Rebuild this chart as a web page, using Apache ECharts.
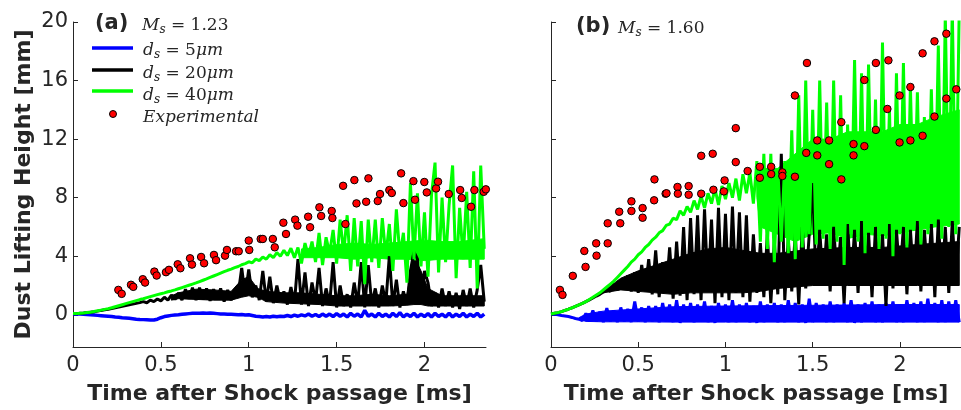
<!DOCTYPE html>
<html>
<head>
<meta charset="utf-8">
<script src="https://cdn.jsdelivr.net/npm/echarts@6/dist/echarts.min.js"></script>
<style>html,body{margin:0;padding:0;background:#fff}#c{width:961px;height:410px}</style>
</head>
<body>
<div id="c"></div>
<script>
// ---------- DATA ----------
const xTickValues = [0, 0.5, 1, 1.5, 2];
const xTickLabels = ['0', '0.5', '1', '1.5', '2'];
const yTickValues = [0, 4, 8, 12, 16, 20];
const yTickLabels = ['0', '4', '8', '12', '16', '20'];

const seriesNames = ['d_s = 5μm', 'd_s = 20μm', 'd_s = 40μm', 'Experimental'];
const machA = '1.23';
const machB = '1.60';

// simulation time grid [ms]
const timeGrid = [
  0,0.02,0.04,0.06,0.08,0.1,0.12,0.14,0.16,0.18,
  0.2,0.22,0.24,0.26,0.28,0.3,0.32,0.34,0.36,0.38,
  0.4,0.42,0.44,0.46,0.48,0.5,0.52,0.54,0.56,0.58,
  0.6,0.62,0.64,0.66,0.68,0.7,0.72,0.74,0.76,0.78,
  0.8,0.82,0.84,0.86,0.88,0.9,0.92,0.94,0.96,0.98,
  1,1.02,1.04,1.06,1.08,1.1,1.12,1.14,1.16,1.18,
  1.2,1.22,1.24,1.26,1.28,1.3,1.32,1.34,1.36,1.38,
  1.4,1.42,1.44,1.46,1.48,1.5,1.52,1.54,1.56,1.58,
  1.6,1.62,1.64,1.66,1.68,1.7,1.72,1.74,1.76,1.78,
  1.8,1.82,1.84,1.86,1.88,1.9,1.92,1.94,1.96,1.98,
  2,2.02,2.04,2.06,2.08,2.1,2.12,2.14,2.16,2.18,
  2.2,2.22,2.24,2.26,2.28,2.3,2.32,2.34
];

// Panel (a) Ms = 1.23 — simulated traces
const blueA = [
  0.07,0.06,0.05,0.04,0.02,0,-0.02,-0.04,-0.06,-0.08,
  -0.1,-0.12,-0.15,-0.17,-0.2,-0.22,-0.24,-0.27,-0.3,-0.32,
  -0.33,-0.34,-0.35,-0.36,-0.3,-0.2,-0.12,-0.08,-0.04,-0.02,
  0,0.03,0.06,0.08,0.1,0.1,0.1,0.12,0.1,0.12,
  0.1,0.08,0.06,0.05,0.04,0.03,0.02,0,0.02,-0.02,
  0,-0.05,-0.1,-0.12,-0.15,-0.12,-0.15,-0.1,-0.14,-0.1,
  -0.12,-0.05,-0.12,-0.02,-0.1,0,-0.08,0.05,-0.1,0.02,
  -0.12,0.05,-0.1,0.05,-0.12,0.08,-0.1,0.05,-0.15,0.1,
  -0.1,0.05,-0.15,0.3,-0.1,0.05,-0.15,0.1,-0.12,0.05,
  -0.15,0.1,-0.12,0.15,-0.15,0.05,-0.12,0.1,-0.15,0.05,
  -0.12,0.08,-0.15,0.1,-0.12,0.05,-0.15,0.1,-0.15,0.05,
  -0.12,0.1,-0.15,0.05,-0.12,0.1,-0.15,0.05
];
const blackA = [
  0.08,0.08,0.1,0.12,0.15,0.18,0.21,0.25,0.3,0.34,
  0.38,0.43,0.48,0.53,0.58,0.63,0.68,0.73,0.78,0.83,
  0.9,0.82,1.0,0.9,1.08,0.95,1.2,1.0,1.35,1.05,
  1.5,1.0,1.75,1.1,1.85,1.0,1.85,1.05,1.8,0.95,
  1.75,1.1,1.8,0.9,1.7,1.0,1.6,1.4,3.2,1.3,
  3.1,1.2,2.0,1.0,3.0,0.9,2.6,0.8,2.0,0.9,
  1.6,0.7,1.9,0.8,3.8,0.7,2.9,0.6,2.2,0.9,
  3.2,0.6,1.8,0.7,3.6,0.5,2.0,0.6,1.4,0.5,
  2.2,0.7,3.6,0.5,3.4,0.7,1.8,0.5,2.0,0.8,
  4.0,0.6,2.4,0.5,1.6,0.7,3.0,4.3,3.8,0.8,
  3.0,2.2,0.6,1.5,0.5,1.8,0.6,1.6,0.5,1.5,
  0.4,1.7,0.6,1.8,0.5,1.7,3.4,0.9
];
const greenA = [
  0.08,0.08,0.1,0.12,0.15,0.18,0.22,0.27,0.32,0.37,
  0.42,0.48,0.55,0.62,0.69,0.76,0.83,0.9,0.97,1.04,
  1.1,1.17,1.24,1.31,1.38,1.44,1.5,1.57,1.63,1.7,
  1.78,1.86,1.94,2.02,2.1,2.18,2.27,2.36,2.45,2.55,
  2.65,2.75,2.85,2.95,3.04,3.12,3.22,3.3,3.42,3.5,
  3.62,3.55,3.8,3.7,3.95,3.8,4.1,3.9,4.25,4.0,
  4.4,4.05,4.55,3.9,4.6,3.5,4.9,4.0,5.0,3.6,
  5.6,3.4,5.3,4.2,5.8,3.5,6.5,4.2,6.8,3.0,
  6.6,3.3,6.4,2.1,6.5,3.6,6.5,3.2,6.6,4.0,
  6.2,3.0,7.2,4.0,5.6,2.2,9.0,3.8,8.3,3.3,
  7.0,2.6,8.2,10.4,2.9,8.0,3.6,7.5,10.2,2.5,
  7.3,3.8,8.4,3.2,9.8,1.8,10.2,4.5
];
// Panel (a) dense cores of the noisy traces (lower / upper edge)
const blackABandTime = [0.56,0.6,0.7,0.8,0.9,0.96,1.0,1.05,1.1,1.2,1.3,1.4,1.5,1.6,1.7,1.8,1.9,1.94,1.98,2.02,2.1,2.2,2.34];
const blackABandLow  = [1.0,1.1,1.05,1.0,1.0,1.2,1.3,1.2,0.9,0.8,0.75,0.7,0.6,0.6,0.6,0.6,0.65,0.7,0.7,0.6,0.6,0.6,0.6];
const blackABandHigh = [1.3,1.5,1.75,1.7,1.6,2.4,2.6,1.8,1.6,1.5,1.5,1.4,1.3,1.3,1.4,1.3,1.4,4.0,3.0,1.8,1.3,1.3,1.3];
const greenABandTime = [1.3,1.4,1.5,1.6,1.7,1.8,1.9,2.0,2.1,2.2,2.34];
const greenABandLow  = [3.9,3.9,3.9,3.8,3.9,3.8,3.8,3.7,3.8,3.8,3.8];
const greenABandHigh = [4.5,4.6,4.8,4.9,4.8,4.9,5.0,5.1,5.0,5.0,5.2];
// Panel (a) experiment
const expATime = [
  0.258,0.277,0.330,0.343,0.397,0.410,0.463,0.476,0.529,0.546,
  0.596,0.611,0.666,0.677,0.729,0.746,0.802,0.814,0.865,0.876,
  0.928,0.943,1.000,1.003,1.068,1.080,1.137,1.148,1.197,1.212,
  1.264,1.277,1.338,1.349,1.402,1.412,1.472,1.476,1.537,1.550,
  1.601,1.613,1.668,1.681,1.734,1.747,1.800,1.814,1.867,1.880,
  1.937,1.946,1.999,2.013,2.066,2.077,2.138,2.203,2.212,2.265,
  2.284,2.337,2.349
];
const expAHeight = [
  1.70,1.43,2.05,1.91,2.43,2.20,2.95,2.68,2.91,3.07,
  3.45,3.18,3.86,3.43,3.95,3.52,4.09,3.73,4.04,4.43,
  4.34,4.34,5.07,4.43,5.18,5.18,5.18,4.61,6.29,5.52,
  6.50,6.09,6.70,5.98,7.34,6.75,7.09,6.61,8.81,6.20,
  9.20,7.61,7.72,9.32,7.77,8.25,8.52,8.32,9.66,7.63,
  9.13,7.86,9.07,8.36,8.63,9.09,8.25,8.52,7.98,7.38,
  8.52,8.40,8.57
];

// Panel (b) Ms = 1.60 — simulated traces
const blueB = [
  0.05,0.03,0,-0.05,-0.08,-0.12,-0.18,-0.25,-0.3,-0.4,
  0.1,-0.45,0.3,-0.45,0.2,-0.5,0.45,-0.45,0.3,-0.5,
  0.5,-0.45,0.4,-0.5,0.9,-0.45,0.5,-0.5,0.6,-0.45,
  0.6,-0.5,0.8,-0.45,0.7,-0.5,1.0,-0.55,0.7,-0.45,
  0.8,-0.5,0.7,-0.45,0.9,-0.5,0.6,-0.55,0.8,-0.45,
  0.7,-0.5,1.0,-0.5,0.7,-0.45,0.8,-0.5,0.6,-0.55,
  0.9,-0.5,0.7,-0.45,0.8,-0.5,0.7,-0.5,1.0,-0.45,
  0.8,-0.5,0.7,-0.55,1.1,-0.5,0.8,-0.45,0.7,-0.5,
  0.9,-0.5,0.7,-0.45,0.8,-0.5,1.0,-0.55,0.7,-0.5,
  0.8,-0.45,0.9,-0.5,0.7,-0.5,0.8,-0.45,0.9,-0.5,
  0.7,-0.5,1.0,-0.45,0.8,-0.5,0.9,-0.5,1.1,-0.45,
  0.8,-0.5,1.0,-0.5,0.9,-0.45,1.0,-0.5
];
const blackB = [
  0.05,0.1,0.15,0.22,0.3,0.38,0.48,0.58,0.68,0.78,
  0.9,1.02,1.15,1.28,1.4,1.55,1.75,1.6,2.1,1.7,
  2.4,1.8,2.7,1.6,2.9,1.5,3.4,1.6,3.8,1.4,
  4.4,1.2,3.6,1.5,4.6,1.1,5.0,1.3,6.0,1.0,
  6.6,1.4,6.8,1.0,7.2,1.6,6.5,0.8,7.3,1.2,
  6.9,1.0,7.4,1.5,7.0,1.2,6.8,0.9,5.5,1.5,
  4.9,1.2,5.5,0.8,5.0,1.4,11.0,1.0,5.2,1.6,
  5.6,0.7,6.0,1.8,5.5,9.0,2.0,5.8,2.2,5.5,
  1.6,6.0,2.4,5.3,0.8,6.2,2.0,5.8,1.5,6.4,
  2.4,5.6,1.2,6.0,2.2,5.5,0.6,6.2,1.8,5.8,
  2.5,6.0,1.4,5.8,2.2,6.4,1.6,5.8,2.4,6.2,
  1.2,6.5,2.0,6.0,1.5,6.4,2.2,6.0
];
const greenB = [
  0.05,0.1,0.15,0.22,0.3,0.38,0.48,0.58,0.68,0.78,
  0.9,1.05,1.2,1.35,1.5,1.7,1.9,2.1,2.3,2.55,
  2.8,3.05,3.3,3.6,3.8,4.1,4.3,4.6,4.8,5.1,
  5.3,5.6,5.75,6.1,6.2,6.6,6.5,7.1,6.8,7.4,
  7.0,7.8,7.2,8.1,7.3,8.3,7.6,8.6,7.5,8.8,
  7.9,9.0,8.0,9.3,7.8,9.6,8.3,9.7,7.6,10.5,
  5.0,11.0,4.5,11.0,3.6,10.0,5.0,10.5,4.2,12.6,
  3.8,15.0,4.6,16.0,5.5,14.0,4.8,16.0,5.2,14.5,
  4.5,16.0,5.0,15.0,3.4,13.0,5.5,17.4,5.0,16.5,
  4.2,17.1,5.6,14.7,4.5,18.6,5.2,14.0,4.0,16.5,
  5.5,17.2,4.6,15.6,5.8,15.2,4.8,13.5,5.5,15.4,
  6.0,18.4,5.2,20.5,6.0,21,5.5,21
];
// Panel (b) dense cores of the noisy traces (lower / upper edge)
const blueBBandTime = [0.16,0.2,0.3,0.5,0.7,1.0,1.5,2.0,2.34];
const blueBBandLow  = [-0.3,-0.45,-0.48,-0.48,-0.5,-0.5,-0.5,-0.5,-0.5];
const blueBBandHigh = [-0.2,0.05,0.25,0.4,0.55,0.6,0.65,0.7,0.7];
const blackBBandTime = [0.3,0.4,0.5,0.6,0.7,0.8,0.9,1.0,1.1,1.2,1.3,1.5,1.7,1.9,2.1,2.34];
const blackBBandLow  = [1.5,1.7,1.6,1.5,1.4,1.5,1.5,1.5,1.5,1.6,1.8,2.0,2.0,2.0,2.0,2.0];
const blackBBandHigh = [1.6,2.5,3.0,3.4,3.8,4.2,4.5,4.6,4.4,4.2,4.2,4.5,4.6,4.6,4.8,5.0];
const greenBBandTime = [1.18,1.2,1.3,1.4,1.5,1.6,1.7,1.8,1.9,2.0,2.1,2.2,2.34];
const greenBBandLow  = [8.0,6.0,5.5,5.0,5.5,5.6,5.2,5.5,5.4,5.6,5.8,6.0,6.2];
const greenBBandHigh = [9.5,10.0,10.0,11.0,12.0,12.0,12.5,12.5,12.5,13.0,13.0,13.5,14.0];
// Panel (b) experiment
const expBTime = [
  0.051,0.066,0.125,0.191,0.198,0.259,0.261,0.325,0.325,0.391,
  0.397,0.461,0.461,0.525,0.525,0.593,0.591,0.657,0.662,0.725,
  0.727,0.789,0.789,0.861,0.861,0.927,0.931,0.995,0.991,1.059,
  1.059,1.127,1.197,1.197,1.262,1.262,1.326,1.326,1.398,1.398,
  1.467,1.463,1.526,1.526,1.594,1.594,1.664,1.664,1.734,1.734,
  1.796,1.796,1.862,1.862,1.928,1.934,1.998,1.998,2.060,2.060,
  2.130,2.130,2.198,2.198,2.266,2.266,2.323
];
const expBHeight = [
  1.70,1.36,2.66,4.36,3.27,4.88,4.04,6.25,4.88,7.04,
  6.25,7.75,7.09,7.29,6.63,9.25,7.82,8.27,8.30,8.73,
  8.27,8.79,8.20,10.86,8.27,11.00,8.54,9.18,8.43,12.75,
  10.43,9.82,10.11,9.36,10.11,9.61,9.73,9.48,9.43,14.98,
  17.20,11.06,11.91,10.89,11.91,10.29,13.16,9.25,11.66,10.89,
  16.04,11.52,17.20,12.63,14.06,17.38,14.98,11.77,15.56,11.91,
  17.86,12.23,18.68,13.54,19.20,14.77,15.40
];

// ---------- CHART ----------
const INK = '#262626';
const SANS = '"DejaVu Sans", "Liberation Sans", Arial, sans-serif';
const SERIF = '"DejaVu Serif", "Liberation Serif", serif';
const COL = { blue: '#0000ff', black: '#000000', green: '#00ff00', red: '#ff0000' };

function pairs(xs, ys) { return xs.map((x, i) => [x, ys[i]]); }
function lookup(vals, labels) { return v => { const i = vals.findIndex(a => Math.abs(a - v) < 1e-9); return i >= 0 ? labels[i] : ''; }; }

function xAxisFor(gi) {
  return {
    type: 'value', gridIndex: gi, min: 0, max: 2.35,
    axisLine: { show: true, onZero: false, lineStyle: { color: INK, width: 1 } },
    axisTick: { show: true, inside: true, length: 5, customValues: xTickValues, lineStyle: { color: INK } },
    axisLabel: { show: true, customValues: xTickValues, formatter: lookup(xTickValues, xTickLabels),
      color: INK, fontFamily: SANS, fontSize: 21, margin: 8 },
    splitLine: { show: false },
    name: 'Time after Shock passage [ms]', nameLocation: 'middle', nameGap: 36,
    nameTextStyle: { fontFamily: SANS, fontWeight: 'bold', fontSize: 22, color: INK }
  };
}
function yAxisFor(gi, withLabels) {
  const ax = {
    type: 'value', gridIndex: gi, min: -2.2, max: 20,
    axisLine: { show: true, onZero: false, lineStyle: { color: INK, width: 1 } },
    axisTick: { show: true, inside: true, length: 5, customValues: yTickValues, lineStyle: { color: INK } },
    axisLabel: { show: withLabels, customValues: yTickValues, formatter: lookup(yTickValues, yTickLabels),
      color: INK, fontFamily: SANS, fontSize: 21, margin: 5 },
    splitLine: { show: false }
  };
  if (withLabels) {
    ax.name = 'Dust Lifting Height [mm]';
    ax.nameLocation = 'middle';
    ax.nameGap = 38;
    ax.nameTextStyle = { fontFamily: SANS, fontWeight: 'bold', fontSize: 22, color: INK };
  }
  return ax;
}
function lineSeries(name, gi, ys, color, width) {
  return {
    type: 'line', name: name, xAxisIndex: gi, yAxisIndex: gi,
    data: pairs(timeGrid, ys), symbol: 'none', showSymbol: false, clip: true,
    lineStyle: { color: color, width: width || 3, join: 'bevel' }, itemStyle: { color: color },
    animation: false, silent: true
  };
}
// filled dense core of a noisy trace, drawn through the axis scales (api.coord)
function bandSeries(name, gi, ts, lo, hi, color) {
  return {
    type: 'custom', name: name, xAxisIndex: gi, yAxisIndex: gi, silent: true, animation: false, clip: true,
    data: ts.map((t, i) => [t, lo[i], hi[i]]),
    encode: { x: 0, y: [1, 2] },
    renderItem: function (params, api) {
      if (params.dataIndex !== 0) return null;
      const up = ts.map((t, i) => api.coord([t, hi[i]]));
      const dn = ts.map((t, i) => api.coord([t, lo[i]])).reverse();
      return { type: 'polygon', shape: { points: up.concat(dn) }, style: { fill: color, stroke: color, lineWidth: 1 } };
    }
  };
}
function expSeries(gi, ts, hs) {
  return {
    type: 'scatter', name: seriesNames[3], xAxisIndex: gi, yAxisIndex: gi,
    data: pairs(ts, hs), symbol: 'circle', symbolSize: 7.5,
    itemStyle: { color: COL.red, borderColor: '#000', borderWidth: 1, opacity: 1 },
    animation: false, silent: true, z: 5
  };
}

const richMath = {
  it: { fontFamily: SERIF, fontStyle: 'italic', fontSize: 17, lineHeight: 20, fill: INK },
  rm: { fontFamily: SERIF, fontSize: 17, lineHeight: 20, fill: INK },
  sub: { fontFamily: SERIF, fontStyle: 'italic', fontSize: 12, lineHeight: 14, padding: [8, 0, 0, 0], fill: INK }
};
function dLabel(size) { return '{it|d}{sub|s}{rm| = ' + size + '}{it|μm}'; }
function machLabel(m) { return '{it|M}{sub|s}{rm| = ' + m + '}'; }

function legendRow(y, color) {
  return { type: 'line', shape: { x1: 92, y1: y, x2: 133, y2: y }, style: { stroke: color, lineWidth: 3.5 }, silent: true };
}
function mathText(x, y, text) {
  return { type: 'text', x: x, y: y, style: { text: text, rich: richMath, fill: INK, align: 'left', verticalAlign: 'middle' }, silent: true };
}

const chart = echarts.init(document.getElementById('c'), null, { renderer: 'canvas' });
chart.setOption({
  animation: false,
  backgroundColor: '#ffffff',
  grid: [
    { left: 73, top: 22, width: 413, height: 326, containLabel: false },
    { left: 551, top: 22, width: 416, height: 326, containLabel: false }
  ],
  xAxis: [xAxisFor(0), xAxisFor(1)],
  yAxis: [yAxisFor(0, true), yAxisFor(1, false)],
  series: [
    lineSeries(seriesNames[0], 0, blueA, COL.blue, 3.5),
    bandSeries(seriesNames[1], 0, blackABandTime, blackABandLow, blackABandHigh, COL.black),
    lineSeries(seriesNames[1], 0, blackA, COL.black),
    bandSeries(seriesNames[2], 0, greenABandTime, greenABandLow, greenABandHigh, COL.green),
    lineSeries(seriesNames[2], 0, greenA, COL.green),
    expSeries(0, expATime, expAHeight),
    bandSeries(seriesNames[0], 1, blueBBandTime, blueBBandLow, blueBBandHigh, COL.blue),
    lineSeries(seriesNames[0], 1, blueB, COL.blue),
    bandSeries(seriesNames[1], 1, blackBBandTime, blackBBandLow, blackBBandHigh, COL.black),
    lineSeries(seriesNames[1], 1, blackB, COL.black),
    bandSeries(seriesNames[2], 1, greenBBandTime, greenBBandLow, greenBBandHigh, COL.green),
    lineSeries(seriesNames[2], 1, greenB, COL.green),
    expSeries(1, expBTime, expBHeight)
  ],
  graphic: [
    { type: 'text', x: 95, y: 24, style: { text: '(a)', font: 'bold 21px ' + SANS, fill: INK, align: 'left', verticalAlign: 'middle' }, silent: true },
    mathText(142, 26, machLabel(machA)),
    { type: 'text', x: 576, y: 27, style: { text: '(b)', font: 'bold 21px ' + SANS, fill: INK, align: 'left', verticalAlign: 'middle' }, silent: true },
    mathText(618, 29, machLabel(machB)),
    legendRow(48, COL.blue),
    legendRow(70, COL.black),
    legendRow(91, COL.green),
    { type: 'circle', shape: { cx: 113, cy: 114, r: 3.5 }, style: { fill: COL.red, stroke: '#000', lineWidth: 1 }, silent: true },
    mathText(143, 51, dLabel('5')),
    mathText(143, 74, dLabel('20')),
    mathText(143, 96, dLabel('40')),
    mathText(143, 118, '{it|Experimental}')
  ]
});
</script>
</body>
</html>
